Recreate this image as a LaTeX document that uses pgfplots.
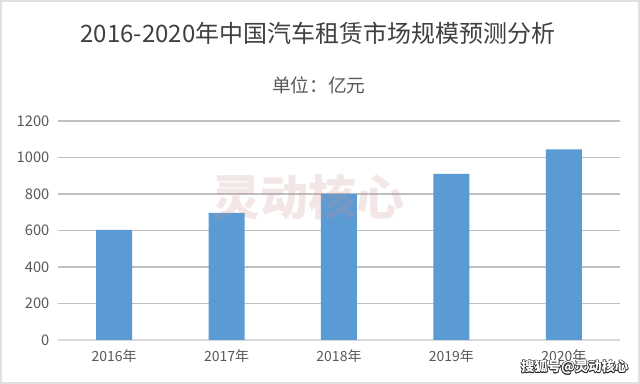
\documentclass[border=0pt]{standalone}
\usepackage{fontspec}
\setmainfont{Noto Sans CJK SC}
\usepackage{pgfplots}
\pgfplotsset{compat=1.18}
\definecolor{barblue}{HTML}{5B9BD5}
\definecolor{txt}{HTML}{595959}
\definecolor{grid}{HTML}{D9D9D9}
\definecolor{wm}{HTML}{C89090}
\begin{document}
\begin{tikzpicture}
\useasboundingbox (0,0) rectangle (480pt,288pt);
\draw[draw=gray!25, line width=1.5pt, fill=white] (0.75pt,0.75pt) rectangle (479.25pt,287.25pt);
\node[text=black!75, font=\fontsize{18}{21}\selectfont] at (238.5pt,263pt) {2016-2020年中国汽车租赁市场规模预测分析};
\node[text=txt, font=\fontsize{14}{16}\selectfont] at (239pt,224pt) {单位：亿元};
\begin{axis}[
  at={(43.5pt,33pt)}, anchor=south west,
  scale only axis, width=421.5pt, height=164.25pt,
  ymin=0, ymax=1200, ytick={0,200,...,1200},
  xmin=-0.5, xmax=4.5,
  xtick=data, xticklabels={2016年,2017年,2018年,2019年,2020年},
  ybar, bar width=27pt,
  axis x line*=bottom, axis y line*=left,
  y axis line style={draw=none},
  x axis line style={grid, line width=0.8pt},
  ymajorgrids, xmajorgrids=false, grid style={grid, line width=0.8pt},
  tick style={draw=none},
  major tick length=0pt,
  tick label style={text=txt, font=\fontsize{10.5}{12}\selectfont},
  /pgf/number format/assume math mode=true,
  /pgf/number format/1000 sep={},
  yticklabel style={xshift=-3pt, font=\fontsize{11}{12}\selectfont},
  xticklabel style={yshift=-4pt},
  enlargelimits=false,
  clip=false,
]
\addplot[fill=barblue, draw=none] coordinates {(0,603) (1,697) (2,800) (3,910) (4,1045)};
\end{axis}
\node[text=wm, opacity=0.22, font=\fontsize{36}{40}\selectfont\bfseries] at (231pt,140pt) {灵动核心};
\foreach \dx/\dy in {0.5/0,-0.5/0,0/0.5,0/-0.5,0.35/0.35,-0.35/0.35,0.35/-0.35,-0.35/-0.35}{
  \node[text=black!85, font=\fontsize{10}{12}\selectfont\bfseries] at ([xshift=\dx pt,yshift=\dy pt]431pt,12.5pt) {搜狐号@灵动核心};
}
\node[text=white, font=\fontsize{10}{12}\selectfont\bfseries] at (431pt,12.5pt) {搜狐号@灵动核心};
\end{tikzpicture}
\end{document}
